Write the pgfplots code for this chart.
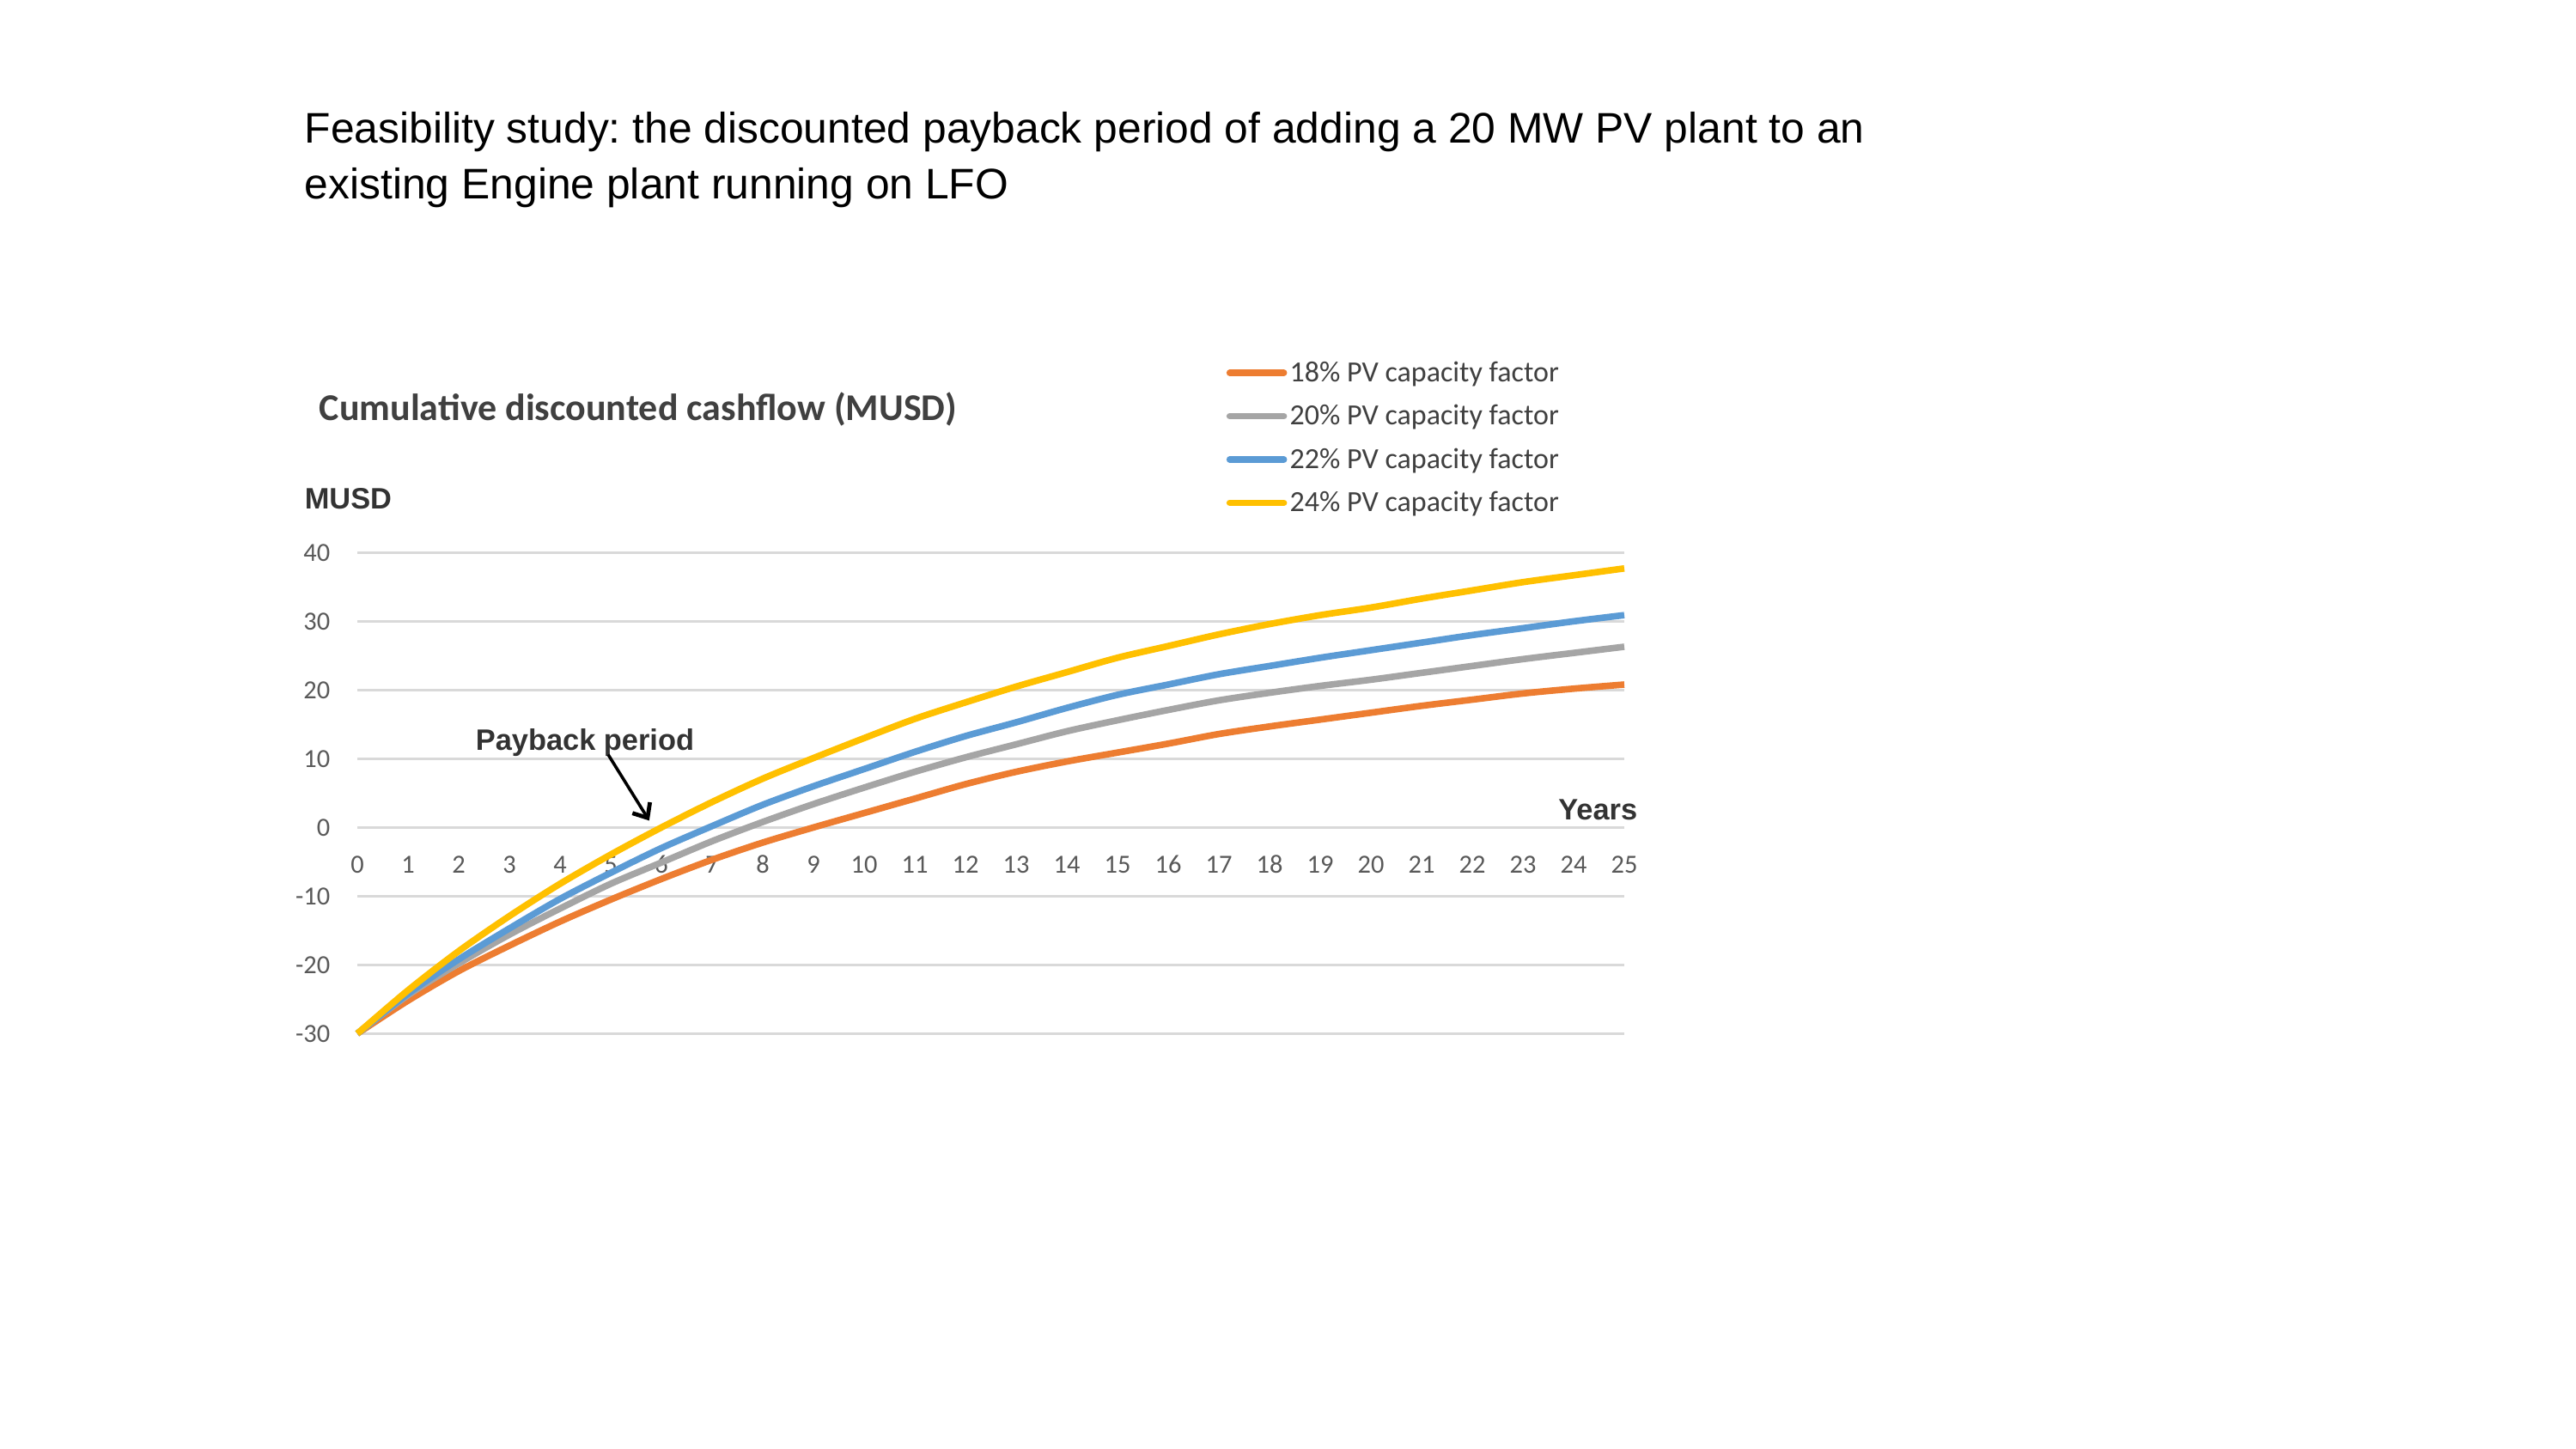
\documentclass[border=0pt]{standalone}
\usepackage{fontspec}
\setmainfont{Liberation Sans}
\newfontfamily\carlito{Carlito}
\usepackage{pgfplots}
\usepackage{pgfplotstable}
\pgfplotsset{compat=1.18}
\usetikzlibrary{arrows.meta}
\definecolor{cO}{HTML}{ED7D31}
\definecolor{cG}{HTML}{A5A5A5}
\definecolor{cB}{HTML}{5B9BD5}
\definecolor{cY}{HTML}{FFC000}
\definecolor{gridc}{HTML}{D9D9D9}
\definecolor{tickc}{HTML}{595959}
\definecolor{txtc}{HTML}{404040}
\definecolor{lblc}{HTML}{333333}
\frenchspacing

\pgfplotstableread{
year o g b y
0 -30 -30 -30 -30
1 -25.2 -24.4 -24.2 -23.7
2 -20.9 -19.8 -19.2 -18.0
3 -17.2 -15.6 -14.7 -12.9
4 -13.7 -11.8 -10.4 -8.2
5 -10.5 -8.2 -6.6 -3.95
6 -7.5 -5.1 -3.0 0.0
7 -4.7 -2.0 0.2 3.7
8 -2.2 0.8 3.3 7.1
9 0.0 3.4 6.0 10.1
10 2.1 5.8 8.5 13.0
11 4.2 8.1 11.0 15.8
12 6.3 10.2 13.3 18.2
13 8.1 12.1 15.3 20.5
14 9.6 14.0 17.4 22.6
15 10.9 15.6 19.3 24.7
16 12.2 17.1 20.8 26.4
17 13.6 18.5 22.3 28.1
18 14.7 19.6 23.5 29.6
19 15.7 20.6 24.7 30.9
20 16.7 21.5 25.8 32.0
21 17.7 22.5 26.9 33.3
22 18.6 23.5 28.0 34.5
23 19.5 24.5 29.0 35.7
24 20.2 25.4 30.0 36.7
25 20.8 26.3 30.9 37.7
}\data

\begin{document}
\begin{tikzpicture}
\path[use as bounding box, fill=white] (0,0) rectangle (749.75pt,421.75pt);

\node[anchor=base west, inner sep=0pt, font=\fontsize{12.45}{15}\selectfont] at (88.5pt,380.1pt) {Feasibility study: the discounted payback period of adding a 20 MW PV plant to an};
\node[anchor=base west, inner sep=0pt, font=\fontsize{12.45}{15}\selectfont] at (88.5pt,363.9pt) {existing Engine plant running on LFO};

\node[anchor=base west, inner sep=0pt, text=txtc, font=\carlito\bfseries\fontsize{11}{13}\selectfont] at (92.75pt,299.3pt) {Cumulative discounted cashflow (MUSD)};
\node[anchor=base west, inner sep=0pt, text=lblc, font=\bfseries\fontsize{8.6}{10}\selectfont] at (88.5pt,273.5pt) {MUSD};
\node[anchor=base east, inner sep=0pt, text=lblc, font=\bfseries\fontsize{8.6}{10}\selectfont] at (476.75pt,183.1pt) {Years};
\node[anchor=base west, inner sep=0pt, text=lblc, font=\bfseries\fontsize{8.6}{10}\selectfont] at (138.25pt,203.25pt) {Payback period};

\begin{axis}[
  at={(104pt,120.9pt)}, anchor=south west,
  scale only axis, width=368.75pt, height=140pt,
  xmin=0, xmax=25, ymin=-30, ymax=40,
  xtick={0,1,...,25}, ytick={-30,-20,...,40},
  ymajorgrids, grid style={gridc, line width=0.75pt},
  axis line style={draw=none}, major tick length=0pt,
  /pgf/number format/assume math mode=true,
  ticklabel style={font=\carlito\fontsize{7.6}{9}\selectfont, text=tickc, inner sep=0pt},
  xticklabel style={anchor=center, yshift=49.25pt},
  yticklabel style={anchor=east, xshift=-7.75pt},
  clip=false,
  legend cell align=left,
  legend image code/.code={\draw[#1, line cap=round] (0pt,0pt) -- (15.75pt,0pt);},
  legend style={at={(0.6860,1.4186)}, anchor=north west, draw=none, fill=none,
    inner sep=0pt, outer sep=0pt, row sep=0pt, column sep=0.8pt,
    nodes={inner sep=0pt, text height=8.9pt, text depth=3.7pt, text=txtc,
      font=\carlito\fontsize{8.5}{10}\selectfont}},
]
\addplot[cO, line width=1.9pt, smooth, tension=0.5] table[x=year, y=o] {\data};
\addlegendentry{18\% PV capacity factor}
\addplot[cG, line width=1.9pt, smooth, tension=0.5] table[x=year, y=g] {\data};
\addlegendentry{20\% PV capacity factor}
\addplot[cB, line width=1.9pt, smooth, tension=0.5] table[x=year, y=b] {\data};
\addlegendentry{22\% PV capacity factor}
\addplot[cY, line width=1.9pt, smooth, tension=0.5] table[x=year, y=y] {\data};
\addlegendentry{24\% PV capacity factor}
\draw[line width=0.9pt, -{Straight Barb[length=3.5pt,width=6pt,line width=1.2pt]}] (axis cs:4.95,10.6) -- (axis cs:5.76,1.0);
\end{axis}
\end{tikzpicture}
\end{document}
